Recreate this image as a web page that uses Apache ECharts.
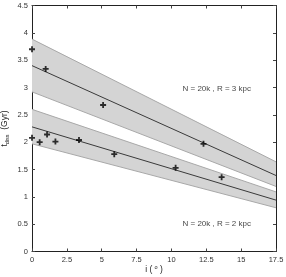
<!DOCTYPE html>
<html>
<head>
<meta charset="utf-8">
<script src="https://cdn.jsdelivr.net/npm/echarts@6/dist/echarts.min.js"></script>
<style>html,body{margin:0;padding:0;background:#fff;}#c{width:286px;height:277px;}</style>
</head>
<body>
<div id="c"></div>
<script>
// ---- data ----
const xTicks = [0, 2.5, 5, 7.5, 10, 12.5, 15, 17.5];
const yTicks = [0, 0.5, 1, 1.5, 2, 2.5, 3, 3.5, 4, 4.5];
const lineX = [0, 17.5];
// R = 3 kpc
const fit3 = [3.40, 1.39];
const band3Top = [3.885, 1.64];
const band3Bottom = [2.92, 1.19];
const pts3X = [0, 0.98, 5.1, 12.3];
const pts3Y = [3.70, 3.34, 2.68, 1.97];
// R = 2 kpc
const fit2 = [2.28, 0.94];
const band2Top = [2.60, 1.09];
const band2Bottom = [1.97, 0.80];
const pts2X = [0, 0.55, 1.08, 1.68, 3.37, 5.9, 10.3, 13.6];
const pts2Y = [2.08, 2.00, 2.14, 2.01, 2.04, 1.78, 1.53, 1.36];
const label3 = 'N = 20k , R = 3 kpc';
const label2 = 'N = 20k , R = 2 kpc';
const label3Pos = [13.25, 2.97];
const label2Pos = [13.25, 0.50];

const zip = (xs, ys) => xs.map((x, i) => [x, ys[i]]);
const plus = 'path://M3.5,0H6.5V3.5H10V6.5H6.5V10H3.5V6.5H0V3.5H3.5Z';
const font = 'Liberation Sans, Arial, sans-serif';

function bandSeries(top, bottom) {
  return {
    type: 'custom',
    coordinateSystem: 'cartesian2d',
    silent: true,
    data: [[lineX[0], top[0], bottom[0], lineX[1], top[1], bottom[1]]],
    renderItem: function (params, api) {
      const p1 = api.coord([api.value(0), api.value(1)]);
      const p2 = api.coord([api.value(3), api.value(4)]);
      const p3 = api.coord([api.value(3), api.value(5)]);
      const p4 = api.coord([api.value(0), api.value(2)]);
      return {
        type: 'group',
        children: [
          { type: 'polygon', shape: { points: [p1, p2, p3, p4] }, style: { fill: '#d4d4d4', stroke: null } },
          { type: 'line', shape: { x1: p1[0], y1: p1[1], x2: p2[0], y2: p2[1] }, style: { stroke: '#a8a8a8', lineWidth: 1 } },
          { type: 'line', shape: { x1: p4[0], y1: p4[1], x2: p3[0], y2: p3[1] }, style: { stroke: '#a8a8a8', lineWidth: 1 } }
        ]
      };
    },
    clip: true,
    z: 1
  };
}

function fitSeries(fit) {
  return {
    type: 'line', data: zip(lineX, fit), symbol: 'none', silent: true,
    lineStyle: { color: '#3a3a3a', width: 1 }, z: 2
  };
}

function ptsSeries(xs, ys) {
  return {
    type: 'scatter', data: zip(xs, ys), symbol: plus, symbolSize: 6,
    itemStyle: { color: '#000' }, z: 3
  };
}

function textSeries(pos, txt) {
  return {
    type: 'scatter', data: [pos], symbolSize: 0, silent: true,
    label: { show: true, position: 'inside', formatter: txt, color: '#111', fontSize: 8, fontFamily: font },
    z: 4
  };
}

const axisCommon = {
  type: 'value',
  axisLine: { show: true, onZero: false, lineStyle: { color: '#222', width: 1 } },
  axisTick: { show: true, inside: true, length: 3, lineStyle: { color: '#444' } },
  splitLine: { show: false }
};

const chart = echarts.init(document.getElementById('c'), null, { renderer: 'canvas' });
chart.setOption({
  animation: false,
  backgroundColor: '#fff',
  grid: { left: 32, right: 10, top: 5.5, bottom: 25.5, containLabel: false, outerBoundsMode: 'none' },
  xAxis: [
    Object.assign({}, axisCommon, {
      min: 0, max: 17.5, interval: 2.5, position: 'bottom',
      axisLabel: { color: '#333', fontSize: 7.5, fontFamily: font, margin: 4,
        formatter: v => xTicks.includes(v) ? String(v) : '' },
      name: '{n|i ( }{s|o}{n| )}', nameLocation: 'middle', nameGap: 13, nameMoveOverlap: false,
      nameTextStyle: { rich: { n: { fontSize: 8.5, color: '#222', fontFamily: font },
                               s: { fontSize: 5.5, color: '#222', fontFamily: font, verticalAlign: 'top', padding: [0, 0, 5, 0] } } }
    }),
    Object.assign({}, axisCommon, {
      min: 0, max: 17.5, interval: 2.5, position: 'top',
      axisLabel: { show: false }
    })
  ],
  yAxis: [
    Object.assign({}, axisCommon, {
      min: 0, max: 4.5, interval: 0.5, position: 'left',
      axisLabel: { color: '#333', fontSize: 7.5, fontFamily: font, margin: 4,
        formatter: v => yTicks.includes(v) ? String(v) : '' },
      name: '{n|t}{s|diss}{n|  (Gyr)}', nameLocation: 'middle', nameGap: 22, nameRotate: 90, nameMoveOverlap: false,
      nameTextStyle: { rich: { n: { fontSize: 8.5, color: '#222', fontFamily: font },
                               s: { fontSize: 5.5, color: '#222', fontFamily: font, padding: [5, 0, 0, 0] } } }
    }),
    Object.assign({}, axisCommon, {
      min: 0, max: 4.5, interval: 0.5, position: 'right',
      axisLabel: { show: false }
    })
  ],
  series: [
    bandSeries(band3Top, band3Bottom),
    bandSeries(band2Top, band2Bottom),
    fitSeries(fit3),
    fitSeries(fit2),
    ptsSeries(pts3X, pts3Y),
    ptsSeries(pts2X, pts2Y),
    textSeries(label3Pos, label3),
    textSeries(label2Pos, label2)
  ]
});
</script>
</body>
</html>
